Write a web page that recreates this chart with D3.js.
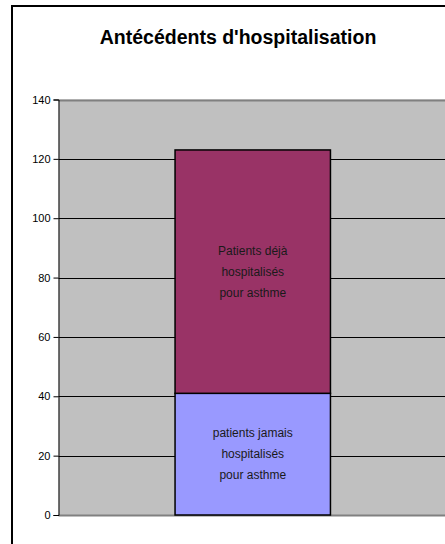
<!DOCTYPE html>
<html>
<head>
<meta charset="utf-8">
<script src="https://cdn.jsdelivr.net/npm/d3@7"></script>
<style>
  html, body { margin: 0; padding: 0; background: #ffffff; }
  svg { display: block; font-family: "Liberation Sans", Arial, sans-serif; }
</style>
</head>
<body>
<svg id="chart" width="445" height="544"></svg>
<script>
// ---- data ----
const title = "Antécédents d'hospitalisation";
const categories = [""];
const seriesNames = ["patients jamais hospitalisés pour asthme", "Patients déjà hospitalisés pour asthme"];
const seriesLabelLines = [
  ["patients jamais", "hospitalisés", "pour asthme"],
  ["Patients déjà", "hospitalisés", "pour asthme"]
];
const seriesValues = [[41], [82]];
const seriesColors = ["#9999FF", "#993366"];
const yTicks = [0, 20, 40, 60, 80, 100, 120, 140];

// ---- layout ----
const svg = d3.select("#chart");
const plot = { left: 58.5, right: 447, top: 99.5, bottom: 515 };

// chart area border
svg.append("rect")
  .attr("x", 12).attr("y", 6)
  .attr("width", 460).attr("height", 560)
  .attr("fill", "#ffffff")
  .attr("stroke", "#000000").attr("stroke-width", 2);

// title
svg.append("text")
  .attr("x", 238).attr("y", 44)
  .attr("text-anchor", "middle")
  .attr("font-size", 19.5).attr("font-weight", "bold")
  .attr("fill", "#000000")
  .text(title);

const y = d3.scaleLinear().domain([0, 140]).range([plot.bottom, plot.top]);
const x = d3.scaleBand().domain(categories).range([plot.left, plot.right])
  .paddingInner(0.6).paddingOuter(0.3);

// plot background
svg.append("rect")
  .attr("x", plot.left).attr("y", plot.top)
  .attr("width", plot.right - plot.left).attr("height", plot.bottom - plot.top)
  .attr("fill", "#C0C0C0");

// gridlines
svg.append("g").selectAll("line")
  .data(yTicks)
  .join("line")
  .attr("x1", plot.left).attr("x2", plot.right)
  .attr("y1", d => Math.round(y(d)) + 0.5).attr("y2", d => Math.round(y(d)) + 0.5)
  .attr("stroke", d => (d === 0 || d === 140) ? "#808080" : "#000000")
  .attr("stroke-width", d => (d === 0 || d === 140) ? 2 : 1);

// stacked bars
const stacked = [];
let base = 0;
seriesValues.forEach((vals, i) => {
  const v = vals[0];
  stacked.push({ name: seriesNames[i], lines: seriesLabelLines[i], color: seriesColors[i], y0: base, y1: base + v });
  base += v;
});

const bars = svg.append("g");
bars.selectAll("rect")
  .data(stacked)
  .join("rect")
  .attr("x", x(categories[0]))
  .attr("width", x.bandwidth())
  .attr("y", d => y(d.y1))
  .attr("height", d => y(d.y0) - y(d.y1))
  .attr("fill", d => d.color)
  .attr("stroke", "#000000")
  .attr("stroke-width", 1.5);

// bar labels
const lineH = 21;
stacked.forEach(d => {
  const cx = x(categories[0]) + x.bandwidth() / 2;
  const cy = (y(d.y0) + y(d.y1)) / 2;
  const n = d.lines.length;
  const t = svg.append("text")
    .attr("text-anchor", "middle")
    .attr("font-size", 12)
    .attr("fill", "#1a1a1a");
  d.lines.forEach((ln, j) => {
    t.append("tspan")
      .attr("x", cx)
      .attr("y", cy + (j - (n - 1) / 2) * lineH + 4)
      .text(ln);
  });
});

// y axis
const yAxis = d3.axisLeft(y).tickValues(yTicks).tickSize(5).tickPadding(3);
const ga = svg.append("g")
  .attr("transform", `translate(${plot.left},0)`)
  .call(yAxis);
ga.select(".domain").attr("stroke", "#000000");
ga.selectAll(".tick line").attr("stroke", "#000000");
ga.selectAll(".tick text")
  .attr("font-size", 11)
  .attr("font-family", "'Liberation Sans', Arial, sans-serif")
  .attr("fill", "#000000");
</script>
</body>
</html>
